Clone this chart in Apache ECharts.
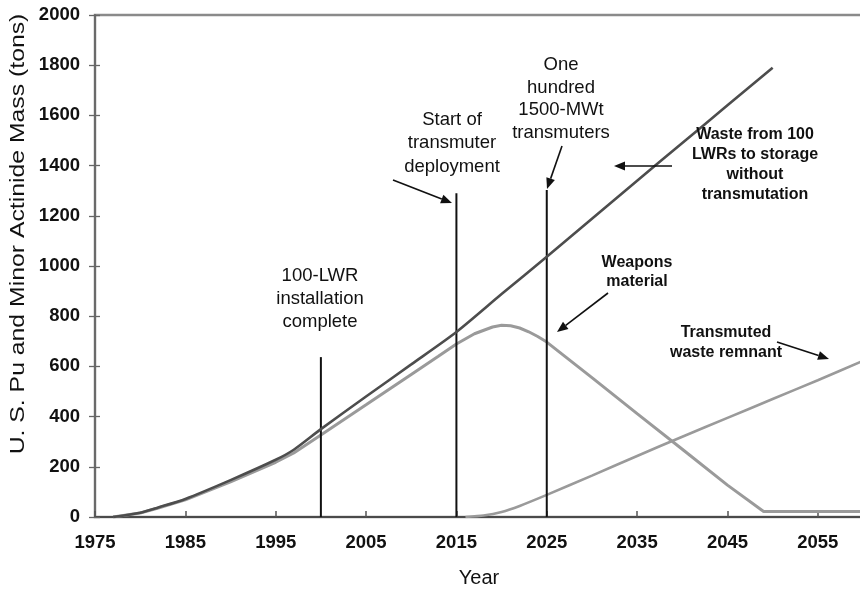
<!DOCTYPE html>
<html>
<head>
<meta charset="utf-8">
<script src="https://cdn.jsdelivr.net/npm/echarts@6/dist/echarts.min.js"></script>
<style>
  html, body { margin: 0; padding: 0; background: #fff; }
  #chart { width: 860px; height: 589px; }
</style>
</head>
<body>
<div id="chart"></div>
<script>
// Waste from 100 LWRs sent to storage without transmutation (tons)
const lwrWaste = [
  [1977, 0], [1980, 17], [1982, 38], [1985, 72], [1990, 147], [1995, 228],
  [1997, 268], [2000, 350], [2005, 480], [2010, 608], [2015, 737], [2020, 888],
  [2025, 1037], [2030, 1188], [2035, 1340], [2040, 1490], [2045, 1640], [2050, 1790]
];

// Weapons material inventory (tons)
const weaponsMaterial = [
  [1977, 0], [1980, 16], [1982, 36], [1985, 68], [1990, 140], [1995, 218],
  [1997, 255], [2000, 327], [2005, 447], [2010, 568], [2013, 640], [2015, 689],
  [2017, 730], [2019, 757], [2020, 764], [2021, 762], [2022, 753], [2023, 738],
  [2024, 719], [2025, 697], [2030, 555], [2035, 412], [2040, 270], [2045, 127],
  [2049, 22], [2060, 22]
];

// Transmuted waste remnant (tons)
const transmutedRemnant = [
  [2016, 0], [2018, 6], [2020, 20], [2022, 44], [2025, 88], [2030, 165],
  [2035, 243], [2040, 320], [2045, 395], [2050, 470], [2055, 545], [2060, 622]
];

// Programme milestones: year and height of the marker line (tons)
const milestoneYears = [2000, 2015, 2025];
const milestoneHeights = [637, 1290, 1303];

// Axis ticks
const yearTicks = [1975, 1985, 1995, 2005, 2015, 2025, 2035, 2045, 2055];
const massTicks = [0, 200, 400, 600, 800, 1000, 1200, 1400, 1600, 1800, 2000];

const chart = echarts.init(document.getElementById('chart'), null, { renderer: 'canvas' });

const FONT = '"Liberation Sans", Arial, Helvetica, sans-serif';
const plain = v => String(v);

const milestoneSeries = milestoneYears.map((yr, i) => ({
  type: 'line',
  data: [[yr, 0], [yr, milestoneHeights[i]]],
  symbol: 'none',
  lineStyle: { color: '#111', width: 2 },
  z: 3,
  silent: true
}));

// Arrow: shaft plus filled head ending at (x2, y2)
function arrow(x1, y1, x2, y2) {
  const dx = x2 - x1, dy = y2 - y1;
  const len = Math.sqrt(dx * dx + dy * dy);
  const ux = dx / len, uy = dy / len;
  const hl = 11, hw = 4.5;
  const bx = x2 - ux * hl, by = y2 - uy * hl;
  return [
    { type: 'line', shape: { x1: x1, y1: y1, x2: bx, y2: by },
      style: { stroke: '#111', lineWidth: 1.6 }, z: 10 },
    { type: 'polygon',
      shape: { points: [[x2, y2], [bx - uy * hw, by + ux * hw], [bx + uy * hw, by - ux * hw]] },
      style: { fill: '#111' }, z: 10 }
  ];
}

function note(text, x, y, size, weight, lh) {
  return {
    type: 'text', z: 10,
    style: {
      text: text, x: x, y: y, fill: '#111',
      font: weight + ' ' + size + 'px ' + FONT,
      align: 'center', verticalAlign: 'middle', lineHeight: lh
    }
  };
}

const graphics = [
  // vertical axis title, set in a slightly wide face
  {
    type: 'text', x: 18, y: 234, rotation: Math.PI / 2, scaleX: 1.18, z: 10,
    style: {
      text: 'U. S. Pu and Minor Actinide Mass (tons)', fill: '#111',
      font: 'normal 21px ' + FONT, align: 'center', verticalAlign: 'middle'
    }
  },
  note('100-LWR\ninstallation\ncomplete', 320, 299, 18.5, 'normal', 23),
  note('Start of\ntransmuter\ndeployment', 452, 143, 18.5, 'normal', 23.5),
  note('One\nhundred\n1500-MWt\ntransmuters', 561, 99, 18.5, 'normal', 22.7),
  note('Waste from 100\nLWRs to storage\nwithout\ntransmutation', 755, 165, 16, 'bold', 20),
  note('Weapons\nmaterial', 637, 272, 16, 'bold', 19.5),
  note('Transmuted\nwaste remnant', 726, 343, 16, 'bold', 20)
]
  .concat(arrow(393, 180, 452, 203))
  .concat(arrow(562, 146, 547, 189))
  .concat(arrow(672, 166, 614, 166))
  .concat(arrow(608, 293, 557, 332))
  .concat(arrow(777, 342, 829, 359));

chart.setOption({
  animation: false,
  backgroundColor: '#fff',
  grid: {
    left: 95, right: -3, top: 15, bottom: 72,
    outerBoundsMode: 'none', containLabel: false,
    show: true, borderColor: '#8a8a8a', borderWidth: 2.5, backgroundColor: 'transparent'
  },
  xAxis: {
    type: 'value', min: 1975, max: 2060,
    name: 'Year', nameLocation: 'middle', nameGap: 51,
    nameTextStyle: { fontFamily: FONT, fontSize: 20, color: '#111' },
    axisLine: { lineStyle: { color: '#4a4a4a', width: 2 } },
    axisTick: { show: true, inside: true, length: 6, customValues: yearTicks,
                lineStyle: { color: '#555', width: 1.5 } },
    axisLabel: { customValues: yearTicks, formatter: plain, margin: 16, fontFamily: FONT,
                 fontSize: 18.5, fontWeight: 'bold', color: '#111' },
    splitLine: { show: false }
  },
  yAxis: [{
    type: 'value', min: 0, max: 2000, interval: 200,
    axisLine: { show: true, lineStyle: { color: '#6a6a6a', width: 2 } },
    axisTick: { show: true, inside: false, length: 6, lineStyle: { color: '#666', width: 1.3 } },
    axisLabel: { margin: 15, formatter: plain, fontFamily: FONT, fontSize: 18.5,
                 fontWeight: 'bold', color: '#111', customValues: massTicks },
    splitLine: { show: false }
  }, {
    type: 'value', min: 0, max: 2000, interval: 200, position: 'left',
    axisLine: { show: false },
    axisTick: { show: true, inside: true, length: 5, lineStyle: { color: '#666', width: 1.3 } },
    axisLabel: { show: false },
    splitLine: { show: false }
  }],
  series: [
    {
      name: 'Waste from 100 LWRs to storage without transmutation',
      type: 'line', data: lwrWaste, symbol: 'none', smooth: 0.25,
      lineStyle: { color: '#4d4d4d', width: 2.6 }, z: 4
    },
    {
      name: 'Weapons material',
      type: 'line', data: weaponsMaterial, symbol: 'none',
      lineStyle: { color: '#9a9a9a', width: 3 }, z: 2
    },
    {
      name: 'Transmuted waste remnant',
      type: 'line', data: transmutedRemnant, symbol: 'none', smooth: 0.2,
      lineStyle: { color: '#9a9a9a', width: 2.6 }, z: 2
    }
  ].concat(milestoneSeries),
  graphic: graphics
});
</script>
</body>
</html>
